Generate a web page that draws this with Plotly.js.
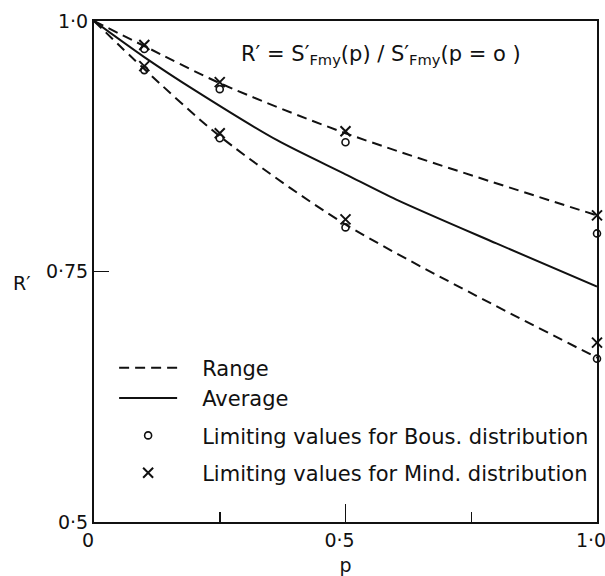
<!DOCTYPE html>
<html>
<head>
<meta charset="utf-8">
<script src="https://cdn.plot.ly/plotly-3.0.1.min.js"></script>
<style>
  html, body { margin: 0; padding: 0; background: #ffffff; }
  #chart { width: 605px; height: 576px; }
</style>
</head>
<body>
<div id="chart"></div>
<script>
// ---- data ----
const pLimits = [0, 0.1, 0.25, 0.5, 1.0];
const rangeUpper = [1.0, 0.975, 0.938, 0.888, 0.806];
const rangeLower = [1.0, 0.952, 0.885, 0.797, 0.664];

const pAverage = [0, 0.1, 0.2, 0.364, 0.5, 0.6, 0.8, 1.0];
const average = [1.0, 0.964, 0.931, 0.881, 0.847, 0.822, 0.778, 0.735];

const pMarks = [0.1, 0.25, 0.5, 1.0, 0.1, 0.25, 0.5, 1.0];
const bousValues = [0.972, 0.932, 0.879, 0.788, 0.951, 0.883, 0.794, 0.663];
const mindValues = [0.976, 0.939, 0.890, 0.806, 0.955, 0.888, 0.802, 0.679];

const xTickVals = [0, 0.5, 1.0];
const xTickText = ['0', '0·5', '1·0'];
const yTickVals = [0.5, 0.75, 1.0];
const yTickText = ['0·5', '0·75', '1·0'];

const legendNames = ['Range', 'Average',
  'Limiting values for Bous. distribution',
  'Limiting values for Mind. distribution'];

const FONT = 'DejaVu Sans, Arial, sans-serif';
const INK = '#111111';
const PAD = '\u00a0\u00a0\u00a0';

const traces = [
  {
    x: pLimits, y: rangeUpper, mode: 'lines', name: PAD + legendNames[0],
    line: {color: INK, width: 2, dash: '10px,6px', shape: 'spline', smoothing: 0.8},
    legendgroup: 'g1', showlegend: true, cliponaxis: false
  },
  {
    x: pLimits, y: rangeLower, mode: 'lines', name: PAD + legendNames[0],
    line: {color: INK, width: 2, dash: '10px,6px', shape: 'spline', smoothing: 0.8},
    legendgroup: 'g1', showlegend: false, cliponaxis: false
  },
  {
    x: pAverage, y: average, mode: 'lines', name: PAD + legendNames[1],
    line: {color: INK, width: 2, shape: 'spline', smoothing: 0.8},
    legendgroup: 'g1', cliponaxis: false
  },
  {
    x: pMarks, y: bousValues, mode: 'markers', name: PAD + legendNames[2],
    marker: {symbol: 'circle-open', size: 7, color: INK, line: {width: 1.6, color: INK}},
    legendgroup: 'g2', cliponaxis: false
  },
  {
    x: pMarks, y: mindValues, mode: 'markers', name: PAD + legendNames[3],
    marker: {symbol: 'x-thin-open', size: 10, color: INK, line: {width: 2, color: INK}},
    legendgroup: 'g3', cliponaxis: false
  }
];

const layout = {
  width: 605, height: 576,
  margin: {l: 94, r: 8, t: 21, b: 54},
  paper_bgcolor: '#ffffff', plot_bgcolor: '#ffffff',
  font: {family: FONT, color: INK, size: 18},
  showlegend: true,
  legend: {
    x: 0.04, y: 0.348, xanchor: 'left', yanchor: 'top',
    bgcolor: 'rgba(0,0,0,0)', borderwidth: 0,
    font: {family: FONT, size: 21, color: INK},
    traceorder: 'grouped', tracegroupgap: 7,
    itemwidth: 58
  },
  xaxis: {
    range: [0, 1], autorange: false,
    tickvals: xTickVals, ticktext: xTickText,
    ticks: 'inside', ticklen: 18, tickwidth: 1.5, tickcolor: INK,
    minor: {tickvals: [0.25, 0.75], ticks: 'inside', ticklen: 10, tickwidth: 1.5, tickcolor: INK},
    showline: true, linecolor: INK, linewidth: 2, mirror: true,
    showgrid: false, zeroline: false,
    ticklabeloverflow: 'allow', ticklabelshift: -6,
    tickfont: {family: FONT, size: 19, color: INK},
    title: {text: 'p', font: {family: FONT, size: 19, color: INK}, standoff: 13}
  },
  yaxis: {
    range: [0.5, 1], autorange: false,
    tickvals: yTickVals, ticktext: yTickText,
    ticks: 'inside', ticklen: 15, tickwidth: 1.5, tickcolor: INK,
    showline: true, linecolor: INK, linewidth: 2, mirror: true,
    showgrid: false, zeroline: false,
    tickfont: {family: FONT, size: 19, color: INK},
    title: {text: ''}
  },
  annotations: [
    {
      xref: 'paper', yref: 'paper', x: 0.571, y: 0.932, xanchor: 'center', yanchor: 'middle',
      text: 'R′ = S′<sub>Fmy</sub>(p) / S′<sub>Fmy</sub>(p = o )',
      showarrow: false, font: {family: FONT, size: 21, color: INK}
    },
    {
      xref: 'paper', yref: 'paper', x: -0.143, y: 0.477, xanchor: 'center', yanchor: 'middle',
      text: 'R′', showarrow: false, font: {family: FONT, size: 19, color: INK}
    }
  ]
};

Plotly.newPlot('chart', traces, layout, {displayModeBar: false, staticPlot: true});
</script>
</body>
</html>
